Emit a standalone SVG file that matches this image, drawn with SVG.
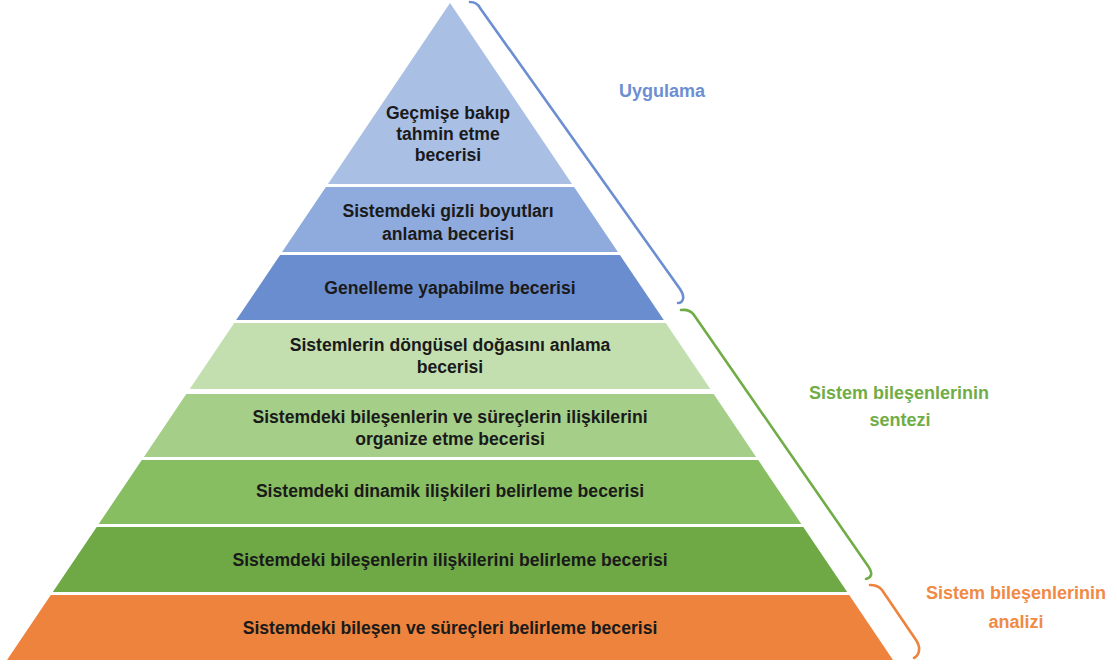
<svg xmlns="http://www.w3.org/2000/svg" width="1117" height="669" viewBox="0 0 1117 669">
<style>
.t{font-family:"Liberation Sans",Arial,sans-serif;font-weight:bold;font-size:17.6px;fill:#1a1a1a;text-anchor:middle}
.l{font-family:"Liberation Sans",Arial,sans-serif;font-weight:bold;font-size:18px;text-anchor:middle}
.br{fill:none;stroke-width:2.6;stroke-linecap:round;stroke-linejoin:round}
</style>
<rect width="1117" height="669" fill="#ffffff"/>
<g id="layer1"><polygon points="450,3 572,184 328,184" fill="#A9BFE4"/>
<text class="t" x="448" y="119">Geçmişe bakıp</text><text class="t" x="448" y="140">tahmin etme</text><text class="t" x="448" y="161">becerisi</text></g>
<g id="layer2"><polygon points="325.9,187 574.1,187 617.9,252 282.1,252" fill="#8FAADC"/>
<text class="t" x="448" y="217">Sistemdeki gizli boyutları</text><text class="t" x="448" y="240">anlama becerisi</text></g>
<g id="layer3"><polygon points="280.1,255 619.9,255 663.8,320 236.2,320" fill="#6A8DD0"/>
<text class="t" x="450" y="294">Genelleme yapabilme becerisi</text></g>
<g id="layer4"><polygon points="234.2,323 665.8,323 710.3,389 189.7,389" fill="#C3DFB0"/>
<text class="t" x="450" y="351">Sistemlerin döngüsel doğasını anlama</text><text class="t" x="450" y="373">becerisi</text></g>
<g id="layer5"><polygon points="186.3,394 713.7,394 756.1,457 143.9,457" fill="#A5CE89"/>
<text class="t" x="450" y="423">Sistemdeki bileşenlerin ve süreçlerin ilişkilerini</text><text class="t" x="450" y="445">organize etme becerisi</text></g>
<g id="layer6"><polygon points="141.8,460 758.2,460 801.3,524 98.7,524" fill="#88BE62"/>
<text class="t" x="450" y="497">Sistemdeki dinamik ilişkileri belirleme becerisi</text></g>
<g id="layer7"><polygon points="96.7,527 803.3,527 847.2,592 52.8,592" fill="#6EA946"/>
<text class="t" x="450" y="566">Sistemdeki bileşenlerin ilişkilerini belirleme becerisi</text></g>
<g id="layer8"><polygon points="50.8,595 849.2,595 893,660 7,660" fill="#ED833C"/>
<text class="t" x="450" y="634">Sistemdeki bileşen ve süreçleri belirleme becerisi</text></g>
<g id="connectors">
<path class="br" stroke="#6C8FD2" d="M470,2 Q477,2 480,8 L680,289 Q684,295 683,299 Q682,303 678,303"/>
<path class="br" stroke="#70AD47" d="M681,310 Q690,309 694,315 L868,566 Q872,572 871,575 Q870,578 866,579"/>
<path class="br" stroke="#ED833C" d="M870,585 Q878,585 882,590 L916,640 Q920,646 919,651 Q918,656 914,658"/>
</g>
<g id="label-uygulama"><text class="l" x="662" y="97" fill="#6C8FD2">Uygulama</text></g>
<g id="label-sentez"><text class="l" x="899" y="399" fill="#70AD47">Sistem bileşenlerinin</text><text class="l" x="900" y="426" fill="#70AD47">sentezi</text></g>
<g id="label-analiz"><text class="l" x="1016" y="599" fill="#F08A45">Sistem bileşenlerinin</text><text class="l" x="1016" y="628" fill="#F08A45">analizi</text></g>
</svg>
